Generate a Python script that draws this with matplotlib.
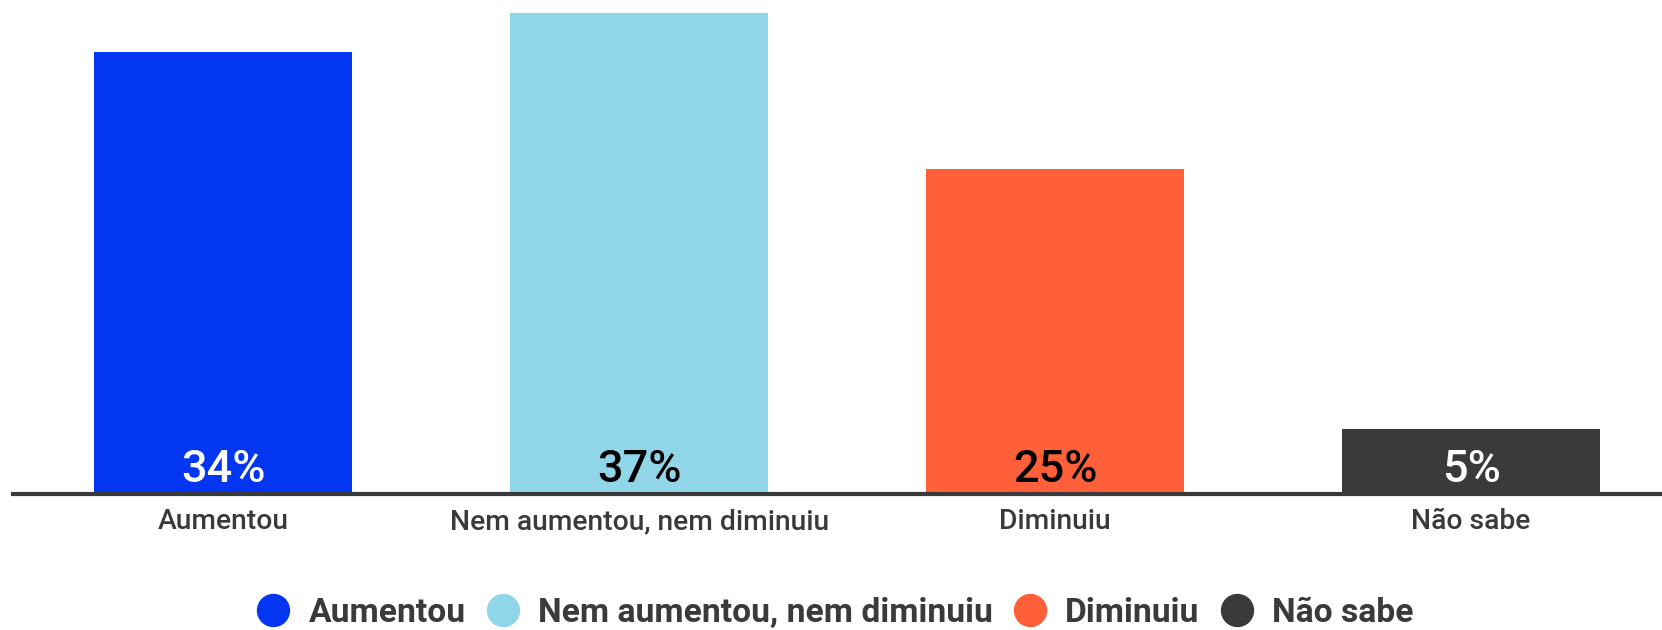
import matplotlib
matplotlib.use("Agg")
import matplotlib.pyplot as plt
from matplotlib.lines import Line2D

categories = ["Aumentou", "Nem aumentou, nem diminuiu", "Diminuiu", "Não sabe"]
values = [34, 37, 25, 5]
labels = ["34%", "37%", "25%", "5%"]
colors = ["#0336F0", "#90D6E8", "#FF6039", "#3A3A3C"]
label_colors = ["white", "black", "black", "white"]

plt.rcParams["font.family"] = ["Roboto", "DejaVu Sans"]
TEXT = "#3A3A3C"

W, H, DPI = 1662, 630, 100
fig = plt.figure(figsize=(W / DPI, H / DPI), dpi=DPI)
# axes: left edge of baseline at ~13 px, baseline at ~494 px from top
ax = fig.add_axes([13 / W, 136 / H, 1 - 13 / W, 1 - 136 / H])

x = list(range(len(categories)))
ax.bar(x, values, width=0.62, color=colors, zorder=2)
for xi, v, lab, lc in zip(x, values, labels, label_colors):
    ax.text(xi, 0.95, lab, ha="center", va="baseline", fontsize=32.5,
            fontweight="medium", color=lc, zorder=3)

ax.set_xlim(-0.505, 3.459)
ax.set_ylim(0, 38)
for s in ["top", "right", "left"]:
    ax.spines[s].set_visible(False)
ax.spines["bottom"].set_color(TEXT)
ax.spines["bottom"].set_linewidth(3)
ax.spines["bottom"].set_zorder(4)
ax.set_yticks([])
ax.set_xticks(x)
ax.set_xticklabels(categories, fontsize=20.3, color=TEXT, fontweight="medium")
ax.tick_params(axis="x", length=0, pad=10)

handles = [Line2D([0], [0], marker="o", linestyle="none", markersize=23,
                  markerfacecolor=c, markeredgecolor=c) for c in colors]
fig.legend(handles, categories, loc="center", bbox_to_anchor=(835 / W, 1 - 613 / H),
           ncol=4, frameon=False, fontsize=24, handlelength=1.0,
           handletextpad=0.55, columnspacing=0.6, labelcolor=TEXT,
           prop={"weight": "bold", "size": 24.2})

fig.savefig("out.png", dpi=DPI)
